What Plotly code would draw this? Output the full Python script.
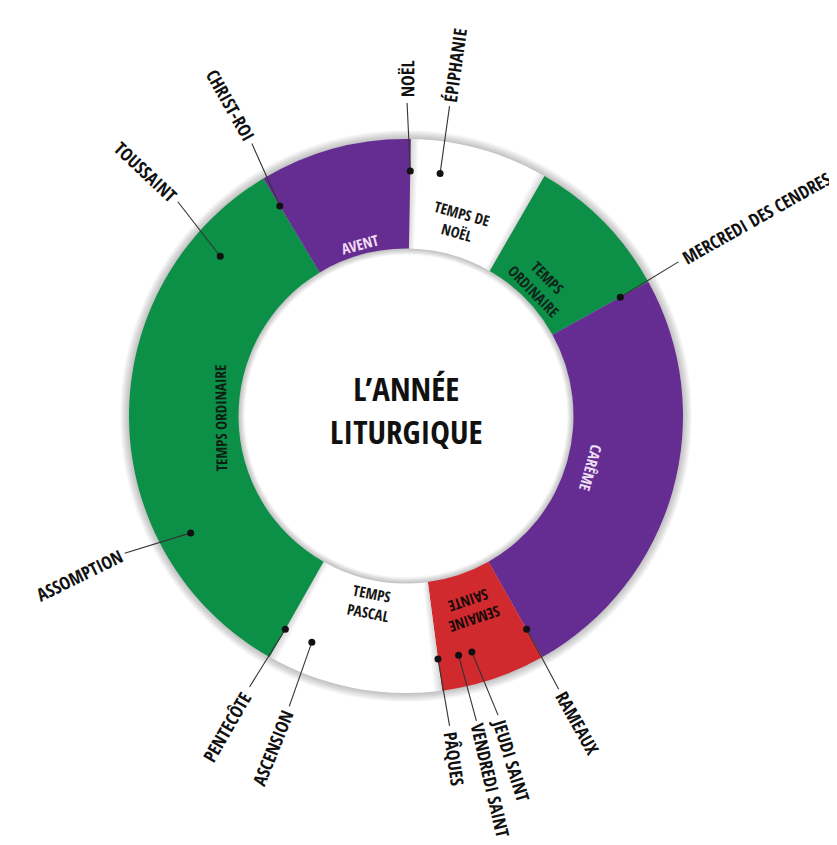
import math
import plotly.graph_objects as go

# ---------------- data ----------------
season_labels = ["TEMPS DE<br>NOËL", "TEMPS<br>ORDINAIRE", "CARÊME", "SEMAINE<br>SAINTE",
                 "TEMPS<br>PASCAL", "TEMPS ORDINAIRE", "AVENT"]
season_spans = [29, 31, 89.5, 22, 37, 119.5, 32]          # degrees of the wheel
season_kinds = ["white", "green", "purple", "red", "white", "green", "purple"]
wheel_start = 1                                            # Noël, degrees clockwise from top

event_names = ["NOËL", "ÉPIPHANIE", "MERCREDI DES CENDRES", "RAMEAUX", "JEUDI SAINT",
               "VENDREDI SAINT", "PÂQUES", "ASCENSION", "PENTECÔTE", "ASSOMPTION",
               "TOUSSAINT", "CHRIST-ROI"]
event_deg = [1, 8, 61, 150.5, 164.4, 167.6, 172.5, 202.6, 209.5, 241.5, 310.7, 329]

# ---------------- style / layout ----------------
W, H = 837, 845
CX, CY = 398, 408             # wheel centre in px (from top-left)
R_IN, R_OUT = 167.5, 277
R_MAX = 330
R_DOT, R_LINE_END, R_TEXT_START = 245, 313, 319
FONT = "Open Sans Condensed, Roboto Condensed, Liberation Sans Narrow, sans-serif"

palette = {"white": "#ffffff", "green": "#0c8f47", "purple": "#652d91", "red": "#d02a2e"}
season_text_col = ["#161616", "#10231a", "#ecdff3", "#1a0a0a", "#161616", "#0d1f14", "#f2dcf3"]
season_label_r = [200, 188, 192, 204, 190, 185, 178]
season_flip = [False, False, False, False, True, False, False]
label_offset = [-0.8, 0, -0.5, 0.3, -1.5, -0.6, -0.5, -0.7, 0.5, 2.5, 2.5, 1.5]

EV_SIZE, SEG_SIZE, CENTER_SIZE = 18, 15, 33

cw = {"A": .59, "B": .59, "C": .59, "D": .59, "E": .55, "É": .55, "Ê": .55, "Ë": .55, "G": .64,
      "H": .59, "I": .23, "J": .46, "L": .50, "M": .68, "N": .59, "O": .64, "Ô": .64, "P": .55,
      "Q": .64, "R": .59, "S": .55, "T": .50, "U": .59, "V": .55, "X": .55, "Â": .59,
      " ": .23, "-": .27}


def text_len(s, size):
    return sum(cw.get(c, .57) for c in s) * size * 0.88


def to_paper(r, deg):
    a = math.radians(deg)
    return (CX + r * math.sin(a)) / W, (H - CY + r * math.cos(a)) / H


starts = []
acc = wheel_start
for s in season_spans:
    starts.append(acc)
    acc += s
mids = [st + sp / 2 for st, sp in zip(starts, season_spans)]

fig = go.Figure()

# soft shadow around the ring
for k in range(1, 10):
    b = R_IN - k * 0.7
    fig.add_trace(go.Barpolar(
        r=[R_OUT + k - b] * 2, base=[b] * 2, theta=[90, 270], width=[180, 180],
        marker=dict(color="rgba(0,0,0,0.026)", line=dict(width=0)),
        hoverinfo="skip", showlegend=False))

# the liturgical seasons
fig.add_trace(go.Barpolar(
    r=[R_OUT - R_IN] * len(season_spans), base=[R_IN] * len(season_spans),
    theta=mids, width=season_spans,
    marker=dict(color=[palette[k] for k in season_kinds], line=dict(width=0)),
    hoverinfo="skip", showlegend=False))

# shading of white seasons next to coloured ones
for st, sp, kind in zip(starts, season_spans, season_kinds):
    if kind != "white":
        continue
    for k in range(1, 5):
        w = k * 0.4
        fig.add_trace(go.Barpolar(
            r=[R_OUT - R_IN] * 2, base=[R_IN] * 2,
            theta=[st + w / 2, st + sp - w / 2], width=[w, w],
            marker=dict(color="rgba(0,0,0,0.035)", line=dict(width=0)),
            hoverinfo="skip", showlegend=False))

# leader lines and dots
lab_deg = [d + o for d, o in zip(event_deg, label_offset)]
lr, lt = [], []
for d, ld in zip(event_deg, lab_deg):
    lr += [R_DOT, R_LINE_END, None]
    lt += [d, ld, None]
fig.add_trace(go.Scatterpolar(r=lr, theta=lt, mode="lines", cliponaxis=False,
                              line=dict(color="#333333", width=1.1),
                              hoverinfo="skip", showlegend=False))
fig.add_trace(go.Scatterpolar(r=[R_DOT] * len(event_deg), theta=event_deg, mode="markers",
                              cliponaxis=False, marker=dict(size=7, color="#111111"),
                              hoverinfo="skip", showlegend=False))

annotations = []
# season labels
for lab, m, rr, col, flip in zip(season_labels, mids, season_label_r, season_text_col, season_flip):
    x, y = to_paper(rr, m)
    ang = m % 360
    if flip:
        ang -= 180
    if ang > 180:
        ang -= 360
    annotations.append(dict(x=x, y=y, xref="paper", yref="paper", text=lab, showarrow=False,
                            textangle=ang, xanchor="center", yanchor="middle",
                            font=dict(family=FONT, size=SEG_SIZE, color=col, weight="bold")))

# event labels
for name, ld in zip(event_names, lab_deg):
    L = text_len(name, EV_SIZE)
    x, y = to_paper(R_TEXT_START + L / 2, ld)
    ang = ld - 90 if (ld % 360) < 180 else ld - 270
    annotations.append(dict(x=x, y=y, xref="paper", yref="paper", text=name, showarrow=False,
                            textangle=ang, xanchor="center", yanchor="middle",
                            font=dict(family=FONT, size=EV_SIZE, color="#111111", weight="bold")))

# centre title
annotations.append(dict(x=CX / W, y=(H - CY + 6) / H, xref="paper", yref="paper",
                        text="L’ANNÉE<br>LITURGIQUE", showarrow=False,
                        xanchor="center", yanchor="middle",
                        font=dict(family=FONT, size=CENTER_SIZE, color="#111111", weight="bold")))

fig.update_layout(
    width=W, height=H, margin=dict(l=0, r=0, t=0, b=0),
    paper_bgcolor="white", plot_bgcolor="white",
    polar=dict(
        domain=dict(x=[(CX - R_MAX) / W, (CX + R_MAX) / W],
                    y=[(H - CY - R_MAX) / H, (H - CY + R_MAX) / H]),
        bgcolor="rgba(0,0,0,0)", barmode="overlay", hole=0,
        radialaxis=dict(range=[0, R_MAX], visible=False),
        angularaxis=dict(visible=False, rotation=90, direction="clockwise"),
    ),
    annotations=annotations,
    showlegend=False,
)

fig.write_html("out.html")
